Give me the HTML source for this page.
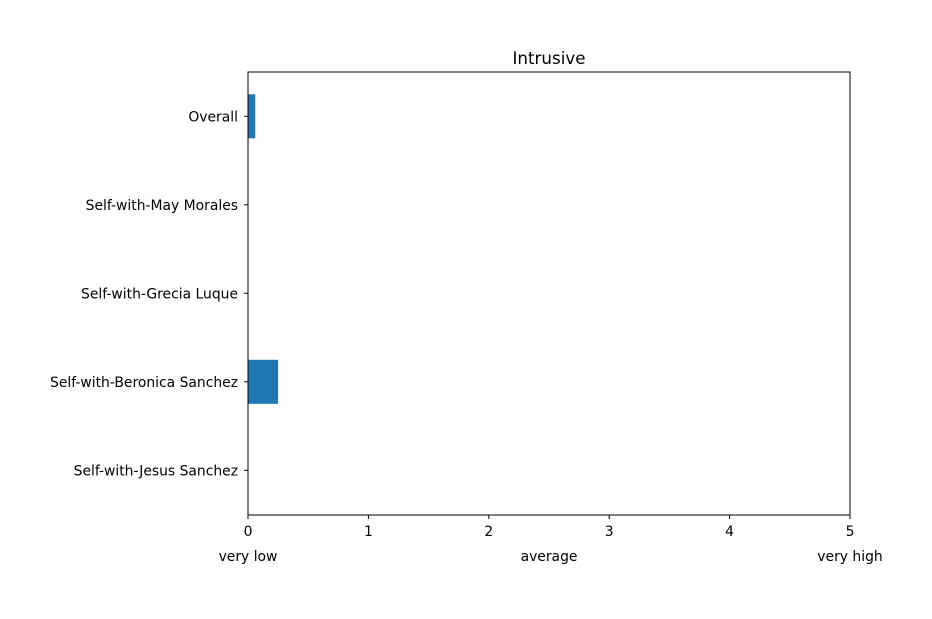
<!DOCTYPE html>
<html><head><meta charset="utf-8"><style>
body{margin:0;background:#fff;font-family:"Liberation Sans","DejaVu Sans",sans-serif;overflow:hidden}
svg text{font-family:"DejaVu Sans","Liberation Sans",sans-serif;font-size:13.9px;fill:#000}
</style></head><body>
<svg id="chart" width="932" height="614" xmlns="http://www.w3.org/2000/svg"></svg>
<script>
const categories = ["Overall","Self-with-May Morales","Self-with-Grecia Luque","Self-with-Beronica Sanchez","Self-with-Jesus Sanchez"];
const values = [0.06, 0, 0, 0.25, 0];
const xTicks = [0,1,2,3,4,5];
const xScaleLabels = ["very low","average","very high"];
const xScaleLabelValues = [0,2.5,5];

const svg = document.getElementById('chart');
const NS = "http://www.w3.org/2000/svg";
const L=248,R=850,T=72,B=515;
const x = v => L + (v/5)*(R-L);
const step = 88.5, firstY = 116.3;
const y = i => firstY + i*step;
function mk(tag, attrs, text){const e=document.createElementNS(NS,tag);for(const k in attrs)e.setAttribute(k,attrs[k]);if(text!==undefined)e.textContent=text;svg.appendChild(e);return e;}

const title = mk('text',{x:(L+R)/2,y:64,'text-anchor':'middle'},'Intrusive');


title.style.fontSize='16.7px';

values.forEach((v,i)=>{
  const r = mk('rect',{x:x(0),y:y(i)-22,width:Math.max(0,x(v)-x(0)),height:44,fill:'#1f77b4'});
  
  
});

const frame = mk('rect',{x:L,y:T,width:R-L,height:B-T,fill:'none',stroke:'#000','stroke-width':1});



categories.forEach((c,i)=>{
  mk('line',{x1:L-4,x2:L,y1:y(i),y2:y(i),stroke:'#000'});
  const t = mk('text',{x:L-10,y:y(i)+5,'text-anchor':'end'},c);
  
  
});
xTicks.forEach(v=>{
  mk('line',{x1:x(v),x2:x(v),y1:B,y2:B+4,stroke:'#000'});
  const t = mk('text',{x:x(v),y:B+21,'text-anchor':'middle'},String(v));
  
  
});
xScaleLabels.forEach((s,i)=>{
  const t = mk('text',{x:x(xScaleLabelValues[i]),y:B+46,'text-anchor':'middle'},s);
  
  
});
</script>
</body></html>
